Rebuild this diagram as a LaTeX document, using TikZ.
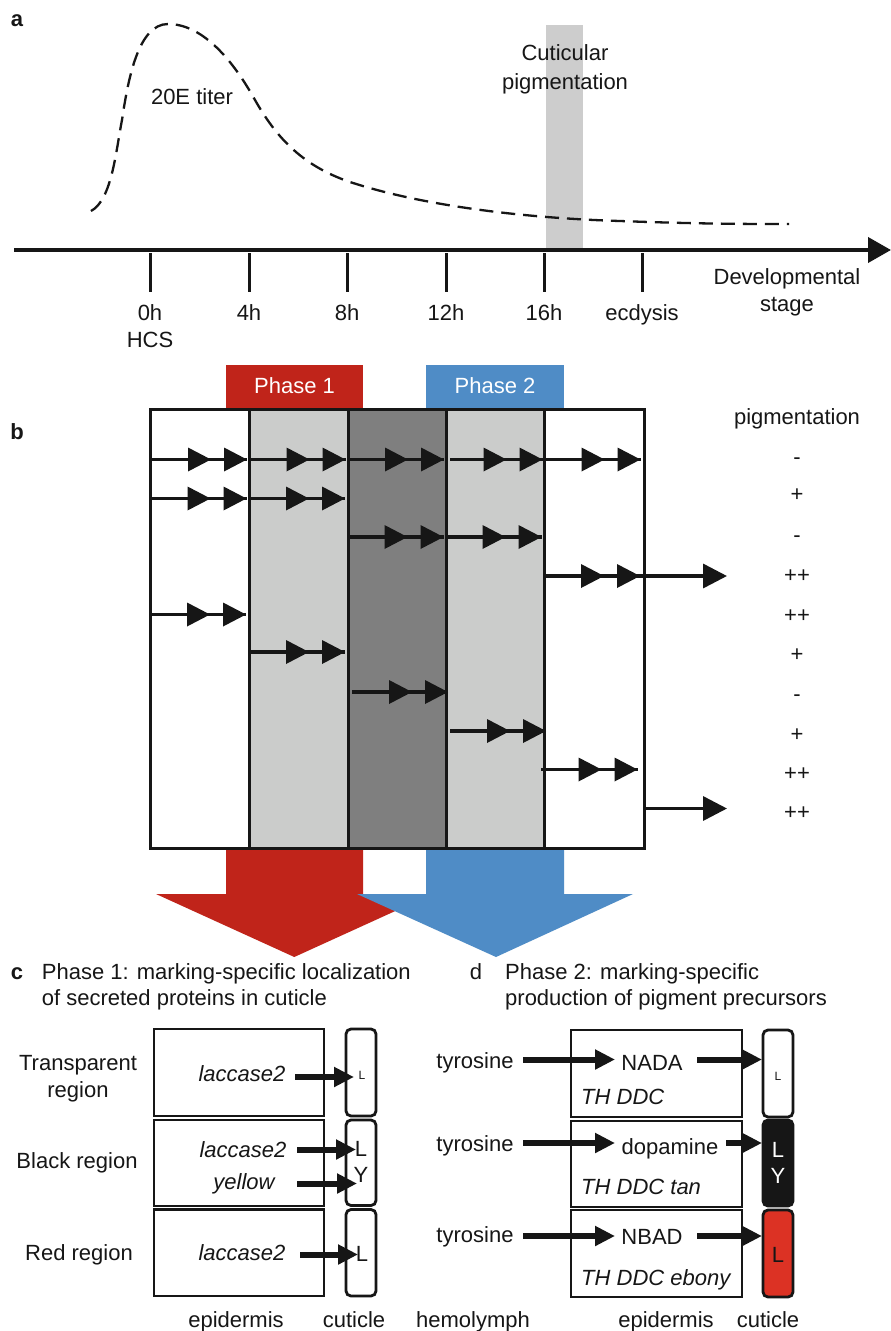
\documentclass[tikz,border=0pt]{standalone}
\usepackage{fontspec}
\setmainfont{Liberation Sans}
\usetikzlibrary{arrows.meta}
\definecolor{ink}{HTML}{161616}
\definecolor{barfill}{HTML}{CDCDCD}
\definecolor{lgray}{HTML}{CBCCCB}
\definecolor{dgray}{HTML}{7F7F7F}
\definecolor{pred}{HTML}{C0241A}
\definecolor{pblue}{HTML}{4F8CC6}
\definecolor{cred}{HTML}{DC3224}
\newcommand\twoheads[3]{%
  \draw[bline] (#1,#3) -- (#2,#3);
  \fill[ink] (#2,#3) -- ++(-23,-12) -- ++(0,24) -- cycle;
  \fill[ink] ({#2-36},#3) -- ++(-23,-12) -- ++(0,24) -- cycle;}
\begin{document}
\begin{tikzpicture}[x=1pt,y=-1pt,
  font=\fontsize{22}{26}\selectfont,
  txt/.style={inner sep=0pt, text height=15.5pt, text depth=0pt, anchor=center, text=ink},
  ltxt/.style={txt, anchor=west},
  itxt/.style={txt, font=\fontsize{22}{26}\selectfont\itshape},
  small/.style={txt, font=\fontsize{12}{14}\selectfont, text height=8.5pt},
  bline/.style={draw=ink, line width=3.5pt},
  cbox/.style={draw=ink, line width=2.8pt},
  cut/.style={draw=ink, line width=2.8pt, rounded corners=5pt},
  carr/.style={draw=ink, line width=6pt, -{Triangle[length=20pt,width=19pt]}},
  tick/.style={draw=ink, line width=3pt}]
\useasboundingbox (0,0) rectangle (891,1331);
\fill[white] (0,0) rectangle (891,1331);

% ---------------- panel a ----------------
\node[txt, font=\fontsize{22}{26}\selectfont\bfseries] (la) at (17,19) {a};
\fill[barfill] (546,25) rectangle (583,249);
\coordinate (axs) at (14,250);
\coordinate (axe) at (891,250);
\draw[ink, line width=4pt, -{Triangle[length=23pt,width=25pt]}] (axs) -- (axe);
\foreach \x in {150,249,347,446,544,642}
  \draw[tick] (\x,253) -- (\x,292);
\node[txt] (l0) at (150,313) {0h};
\node[txt] (lhcs) at (150,340) {HCS};
\node[txt] (l4) at (249,313) {4h};
\node[txt] (l8) at (347,313) {8h};
\node[txt] (l12) at (446,313) {12h};
\node[txt] (l16) at (544,313) {16h};
\node[txt] (lec) at (642,313) {ecdysis};
\node[txt] (dev) at (787,277) {Developmental};
\node[txt] (stage) at (787,304) {stage};
\node[txt] (cut1) at (565,53) {Cuticular};
\node[txt] (cut2) at (565,82) {pigmentation};
\node[txt] (titer) at (192,97) {20E titer};
\draw[ink, line width=2.3pt, dash pattern=on 14pt off 8pt]
  (91,211) .. controls (112,200) and (116,150) .. (122,120)
  .. controls (128,80) and (138,24) .. (168,24)
  .. controls (200,24) and (230,55) .. (255,100)
  .. controls (275,135) and (300,165) .. (350,182)
  .. controls (420,205) and (520,218) .. (620,221)
  .. controls (700,224) and (750,224) .. (789,224);

% ---------------- panel b ----------------
\node[txt, font=\fontsize{22}{26}\selectfont\bfseries] (lb) at (17,432) {b};
\fill[pred] (226,365) rectangle (363,408);
\node[txt, text=white] (ph1) at (294.5,386) {Phase 1};
\fill[pblue] (426,365) rectangle (564,408);
\node[txt, text=white] (ph2) at (495,386) {Phase 2};

% big arrows
\fill[pred] (226,849) -- (363,849) -- (363,894) -- (432.6,894) -- (294.3,957) -- (156,894) -- (226,894) -- cycle;
\fill[pblue] (426,849) -- (564,849) -- (564,894) -- (633,894) -- (496,957) -- (357,894) -- (426,894) -- cycle;

\fill[lgray] (249,409) rectangle (348,848);
\fill[dgray] (348,409) rectangle (446,848);
\fill[lgray] (446,409) rectangle (544,848);
\draw[ink, line width=3pt] (150,409) rectangle (644,848);
\foreach \x in {249,348,446,544} \draw[ink, line width=3pt] (\x,409) -- (\x,848);

% arrows rows
\twoheads{152}{247}{459.5}
\twoheads{251}{345.5}{459.5}
\twoheads{350}{444}{459.5}
\twoheads{450}{542.5}{459.5}
\twoheads{546}{640.5}{459.5}
\twoheads{152}{246.5}{498.5}
\twoheads{251}{345}{498.5}
\twoheads{350}{443.5}{537}
\twoheads{448}{541.5}{537}
\twoheads{546}{640}{576}
\coordinate (o4s) at (640,576);
\coordinate (o4e) at (727,576);
\draw[bline, -{Triangle[length=24pt,width=24pt]}] (o4s) -- (o4e);
\twoheads{152}{246}{614.5}
\twoheads{251}{345}{652}
\twoheads{352}{448}{692}
\twoheads{450}{546}{731}
\twoheads{541}{637.5}{769.5}
\coordinate (o10s) at (644,808.5);
\coordinate (o10e) at (727,808.5);
\draw[bline, -{Triangle[length=24pt,width=24pt]}] (o10s) -- (o10e);

\node[txt] (pig) at (797,416.5) {pigmentation};
\node[txt] (s1) at (797,457) {-};
\node[txt] (s2) at (797,494) {+};
\node[txt] (s3) at (797,535) {-};
\node[txt] (s4) at (797,574.5) {++};
\node[txt] (s5) at (797,615) {++};
\node[txt] (s6) at (797,653.5) {+};
\node[txt] (s7) at (797,694) {-};
\node[txt] (s8) at (797,733.5) {+};
\node[txt] (s9) at (797,772.5) {++};
\node[txt] (s10) at (797,811.5) {++};

% ---------------- panel c ----------------
\node[txt, font=\fontsize{22}{26}\selectfont\bfseries] (lc) at (17,972) {c};
\node[ltxt] (ct1) at (41.7,972) {Phase 1: marking-specific localization};
\node[ltxt] (ct2) at (41.7,998) {of secreted proteins in cuticle};

\draw[cbox] (154,1029) rectangle (324,1116);
\draw[cbox] (154,1120) rectangle (324,1206);
\draw[cbox] (154,1209.5) rectangle (324,1296);
\draw[cut] (346,1029) rectangle (376,1116);
\draw[cut] (346,1120) rectangle (376,1205.5);
\draw[cut] (346,1209.5) rectangle (376,1296);

\node[txt] (tr1) at (78,1063) {Transparent};
\node[txt] (tr2) at (78,1090) {region};
\node[txt] (blk) at (77,1161) {Black region};
\node[txt] (red) at (79,1253) {Red region};

\node[itxt] (lac1) at (242,1074) {laccase2};
\node[itxt] (lac2) at (243,1150) {laccase2};
\node[itxt] (yel) at (244,1182) {yellow};
\node[itxt] (lac3) at (242,1253) {laccase2};

\node[small] (cL1) at (362,1075) {L};
\node[txt] (cL2) at (361,1149) {L};
\node[txt] (cY2) at (361,1175) {Y};
\node[txt] (cL3) at (362,1254) {L};

\coordinate (a1s) at (295,1077);   \coordinate (a1e) at (354,1077);
\coordinate (a2s) at (297,1149.5); \coordinate (a2e) at (356,1149.5);
\coordinate (a3s) at (297,1183.5); \coordinate (a3e) at (357,1183.5);
\coordinate (a4s) at (300,1254.5); \coordinate (a4e) at (358,1254.5);
\draw[carr] (a1s) -- (a1e);
\draw[carr] (a2s) -- (a2e);
\draw[carr] (a3s) -- (a3e);
\draw[carr] (a4s) -- (a4e);

\node[txt] (epc) at (236,1320) {epidermis};
\node[txt] (cuc) at (354,1320) {cuticle};
\node[txt] (hem) at (473,1320) {hemolymph};

% ---------------- panel d ----------------
\node[txt] (ld) at (476,972) {d};
\node[ltxt] (dt1) at (505,972) {Phase 2: marking-specific};
\node[ltxt] (dt2) at (505,998) {production of pigment precursors};

\draw[cbox] (571,1030) rectangle (742,1117);
\draw[cbox] (571,1121) rectangle (742,1207);
\draw[cbox] (571,1210) rectangle (742,1297);
\draw[cut] (763,1030) rectangle (793,1117);
\draw[cut, fill=ink] (763,1120) rectangle (793,1206);
\draw[cut, fill=cred] (763,1210) rectangle (793,1297);

\node[txt] (ty1) at (475,1061) {tyrosine};
\node[txt] (ty2) at (475,1144) {tyrosine};
\node[txt] (ty3) at (475,1235) {tyrosine};
\node[txt] (nada) at (652,1063) {NADA};
\node[txt] (dopa) at (670,1147) {dopamine};
\node[txt] (nbad) at (652,1237) {NBAD};
\node[itxt, anchor=west] (th1) at (581,1097) {TH DDC};
\node[itxt, anchor=west] (th2) at (581,1187) {TH DDC tan};
\node[itxt, anchor=west] (th3) at (581,1278) {TH DDC ebony};

\coordinate (b1s) at (523,1059.5); \coordinate (b1e) at (615,1059.5);
\coordinate (b2s) at (523,1143);   \coordinate (b2e) at (615,1143);
\coordinate (b3s) at (523,1236);   \coordinate (b3e) at (615,1236);
\coordinate (c1s) at (697,1059.5); \coordinate (c1e) at (762,1059.5);
\coordinate (c2s) at (726,1143);   \coordinate (c2e) at (762,1143);
\coordinate (c3s) at (697,1236);   \coordinate (c3e) at (762,1236);
\draw[carr] (b1s) -- (b1e);
\draw[carr] (b2s) -- (b2e);
\draw[carr] (b3s) -- (b3e);
\draw[carr] (c1s) -- (c1e);
\draw[carr] (c2s) -- (c2e);
\draw[carr] (c3s) -- (c3e);

\node[small] (dL1) at (778,1076) {L};
\node[txt, text=white] (dL2) at (778,1150) {L};
\node[txt, text=white] (dY2) at (778,1176) {Y};
\node[txt] (dL3) at (778,1255) {L};

\node[txt] (epd) at (666,1320) {epidermis};
\node[txt] (cud) at (768,1320) {cuticle};
\end{tikzpicture}
\end{document}
